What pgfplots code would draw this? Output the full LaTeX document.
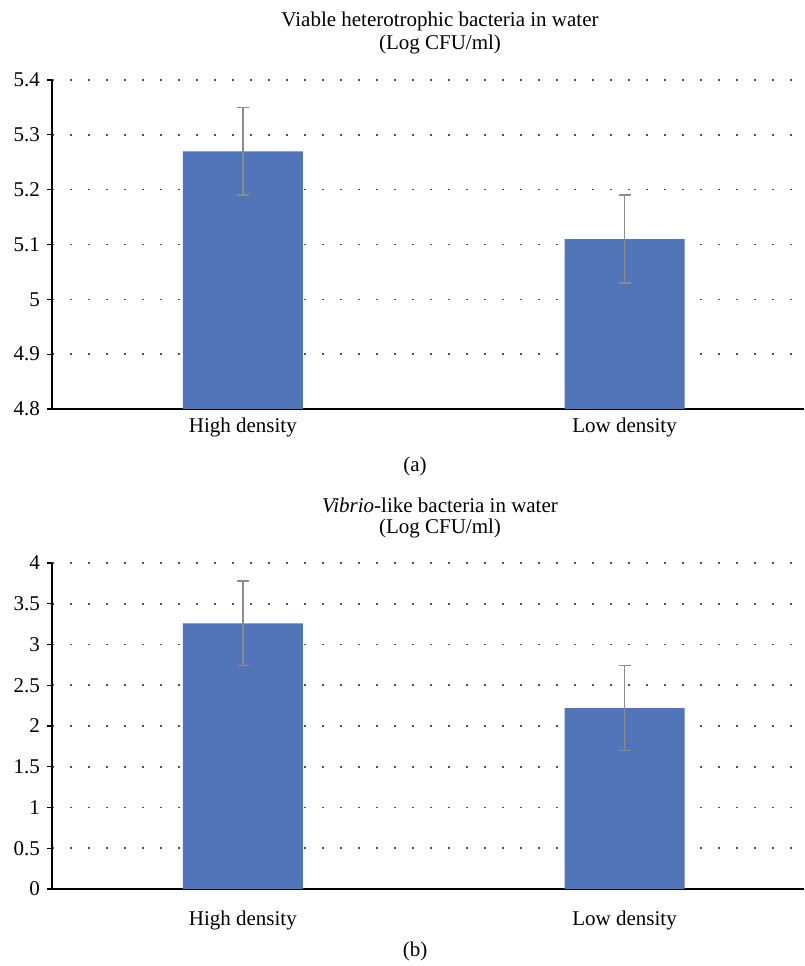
\documentclass[border=0pt]{standalone}
\usepackage{pgfplots}
\pgfplotsset{compat=1.18}
\usepackage{fontspec}
\setmainfont{Liberation Serif}
\definecolor{barblue}{RGB}{82,116,185}
\definecolor{errgray}{RGB}{140,140,140}
\definecolor{gridgray}{RGB}{80,80,80}
\begin{document}
\begin{tikzpicture}[x=1pt,y=1pt]
\fontsize{21}{25}\selectfont
\path[use as bounding box] (0,0) rectangle (804,966);
\pgfplotsset{
  myax/.style={
    scale only axis, width=752pt,
    xmin=-0.5, xmax=1.47,
    axis x line*=bottom, axis y line*=left,
    axis line style={black, line width=1.3pt, -},
    xtick={0,1}, xticklabels={High density, Low density},
    x tick style={draw=none},
    y tick style={black, line width=1.3pt},
    tick align=outside, major tick length=5pt,
    ymajorgrids,
    major grid style={gridgray, line width=1.6pt, dash pattern=on 1.6pt off 16.4pt},
    tick label style={font=\fontsize{21}{25}\selectfont},
    /pgf/number format/assume math mode=true,
    ybar, bar width=120pt, bar shift=0pt,
    clip=false,
  },
  myerr/.style={
    fill=barblue, draw=none,
    error bars/.cd, y dir=both, y explicit,
    error bar style={errgray, line width=1.6pt},
    error mark options={rotate=90, errgray, mark size=6pt, line width=1.6pt},
  }
}
% Panel (a)
\begin{axis}[myax, at={(52pt,557pt)}, anchor=south west, height=329pt,
  xticklabel style={yshift=3pt},
  ymin=4.8, ymax=5.4, ytick={4.8,4.9,5.0,5.1,5.2,5.3,5.4}]
\addplot[myerr] coordinates {(0,5.27) +- (0,0.08) (1,5.11) +- (0,0.08)};
\end{axis}
\node at (440,945) {Viable heterotrophic bacteria in water};
\node at (440,922) {(Log CFU/ml)};
\node at (415,500) {(a)};
% Panel (b)
\begin{axis}[myax, at={(52pt,77pt)}, anchor=south west, height=326pt,
  xticklabel style={yshift=-10pt},
  ymin=0, ymax=4, ytick={0,0.5,1,1.5,2,2.5,3,3.5,4}]
\addplot[myerr] coordinates {(0,3.26) +- (0,0.52) (1,2.22) +- (0,0.52)};
\end{axis}
\node at (440,461) {\textit{Vibrio}-like bacteria in water};
\node at (440,438) {(Log CFU/ml)};
\node at (415,15) {(b)};
\end{tikzpicture}
\end{document}
